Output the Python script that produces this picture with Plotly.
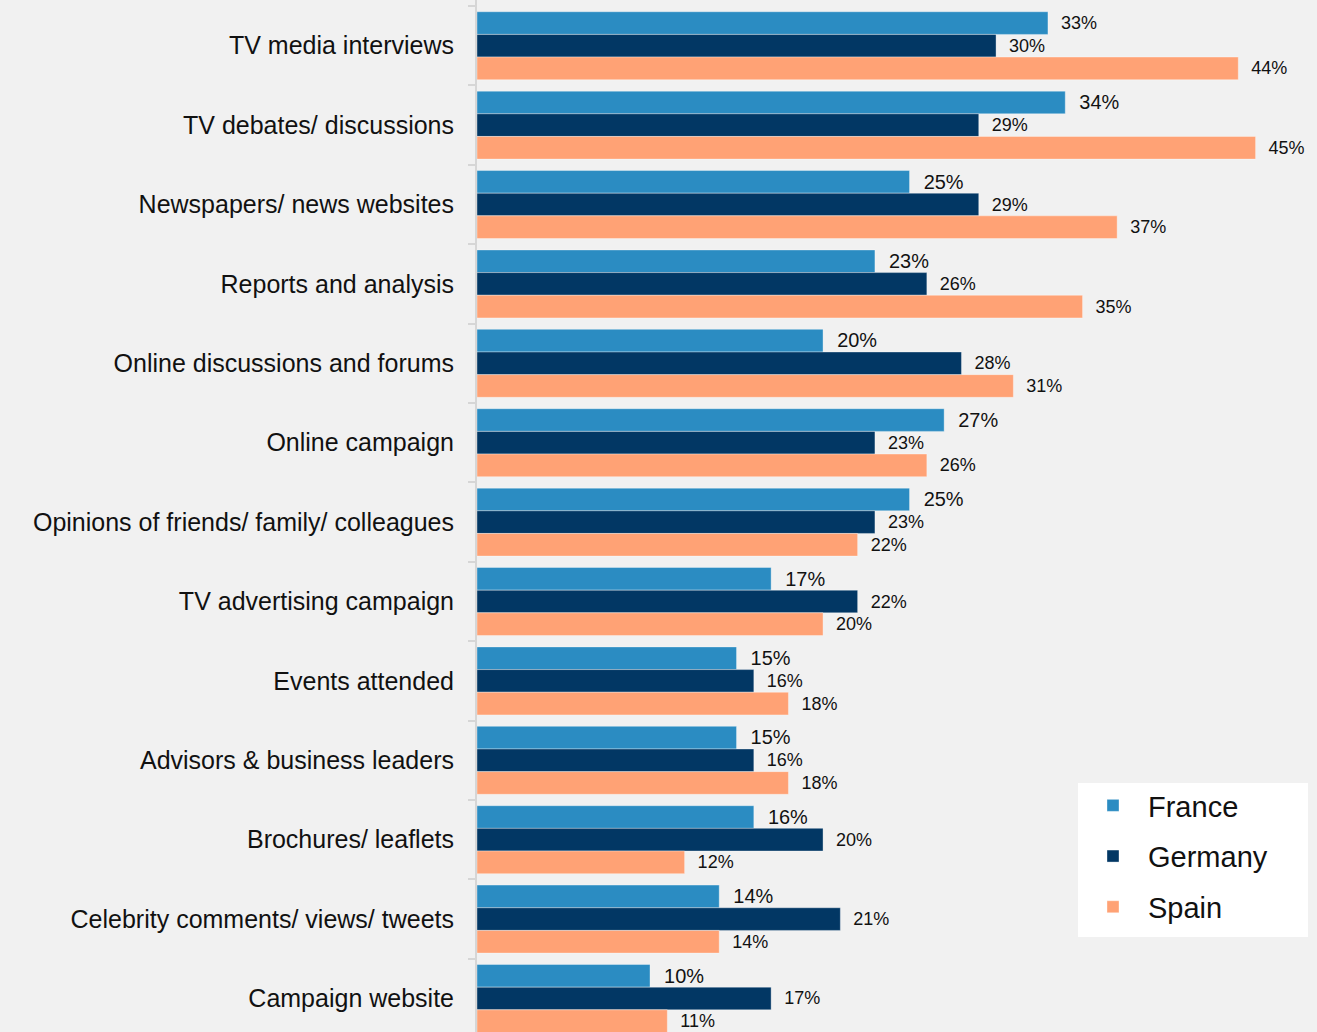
import plotly.graph_objects as go

# Information sources, listed top to bottom
categories = [
    "TV media interviews",
    "TV debates/ discussions",
    "Newspapers/ news websites",
    "Reports and analysis",
    "Online discussions and forums",
    "Online campaign",
    "Opinions of friends/ family/ colleagues",
    "TV advertising campaign",
    "Events attended",
    "Advisors & business leaders",
    "Brochures/ leaflets",
    "Celebrity comments/ views/ tweets",
    "Campaign website",
]

france = [33, 34, 25, 23, 20, 27, 25, 17, 15, 15, 16, 14, 10]
germany = [30, 29, 29, 26, 28, 23, 23, 22, 16, 16, 20, 21, 17]
spain = [44, 45, 37, 35, 31, 26, 22, 20, 18, 18, 12, 14, 11]

# France value labels are larger, except in the first row
france_label_sizes = [18] + [22] * (len(france) - 1)

series = [
    ("France", france, "#2b8cc2", france_label_sizes),
    ("Germany", germany, "#023764", [18] * len(germany)),
    ("Spain", spain, "#ffa275", [18] * len(spain)),
]

PAD = "\u00a0\u00a0"
W, H, LEFT = 1317, 1032, 477

fig = go.Figure()
for i, (name, vals, color, sizes) in enumerate(series):
    fig.add_trace(go.Bar(
        name=name,
        y=categories,
        x=vals,
        orientation="h",
        marker=dict(color=color, line=dict(color="rgba(255,255,255,0.35)", width=1)),
        text=[f"{PAD}{v}%" for v in vals],
        textposition="outside",
        textfont=dict(size=sizes, color="#111111", family="Liberation Sans"),
        cliponaxis=False,
        legendgroup=f"g{i}",
    ))

# White panel behind the legend
legend_box = dict(x0=1078, x1=1308, y0=783, y1=937)
fig.add_shape(
    type="rect",
    xref="paper", yref="paper",
    x0=(legend_box["x0"] - LEFT) / (W - LEFT),
    x1=(legend_box["x1"] - LEFT) / (W - LEFT),
    y0=1 - legend_box["y1"] / H,
    y1=1 - legend_box["y0"] / H,
    fillcolor="#ffffff",
    line=dict(width=0),
    layer="above",
)

fig.update_layout(
    width=W,
    height=H,
    barmode="group",
    bargap=0.144,
    bargroupgap=0,
    paper_bgcolor="#f1f1f1",
    plot_bgcolor="#f1f1f1",
    margin=dict(l=LEFT, r=0, t=0, b=0),
    font=dict(family="Liberation Sans", color="#111111"),
    xaxis=dict(
        range=[0, 48.55],
        showgrid=False,
        zeroline=False,
        showticklabels=False,
        showline=False,
        fixedrange=True,
    ),
    yaxis=dict(
        type="category",
        range=[12.422, -0.576],
        showgrid=False,
        showline=True,
        linecolor="#d6d6d6",
        linewidth=2,
        ticks="outside",
        tickson="boundaries",
        ticklen=7,
        tickwidth=2,
        tickcolor="#d6d6d6",
        ticklabelstandoff=16,
        tickfont=dict(size=25, color="#111111"),
    ),
    legend=dict(
        x=(1078 - LEFT) / (W - LEFT),
        y=1 - 780 / H,
        xanchor="left",
        yanchor="top",
        bgcolor="rgba(0,0,0,0)",
        font=dict(size=29, color="#111111"),
        traceorder="grouped",
        tracegroupgap=10,
        itemwidth=60,
    ),
    showlegend=True,
)

fig.write_html("out.html")
